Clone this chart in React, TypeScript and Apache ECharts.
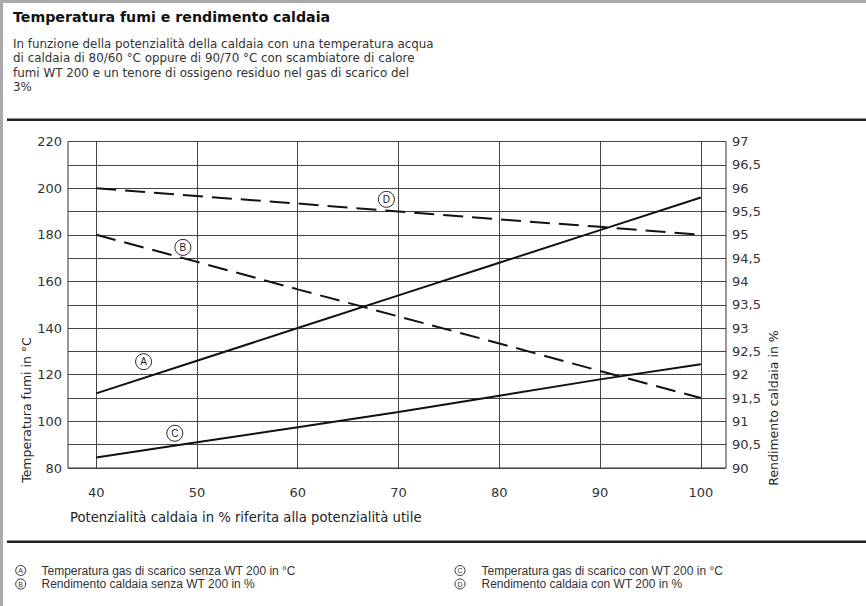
import React, { useEffect, useRef } from "react";
import * as echarts from "echarts";

const xValues = [40, 50, 60, 70, 80, 90, 100];
const seriesA = [112, 126, 140, 154, 168, 182, 196];
const seriesC = [84.5, 91, 97.5, 104, 111, 118, 124.5];
const seriesB = [95, 94.42, 93.83, 93.25, 92.67, 92.08, 91.5];
const seriesD = [96, 95.83, 95.67, 95.5, 95.33, 95.17, 95];

const xTicks = [40, 50, 60, 70, 80, 90, 100];

const titleText = "Temperatura fumi e rendimento caldaia";
const paragraph = [
  "In funzione della potenzialità della caldaia con una temperatura acqua",
  "di caldaia di 80/60 °C oppure di 90/70 °C con scambiatore di calore",
  "fumi WT 200 e un tenore di ossigeno residuo nel gas di scarico del",
  "3%",
];
const xAxisName = "Potenzialità caldaia in % riferita alla potenzialità utile";
const yLeftName = "Temperatura fumi in °C";
const yRightName = "Rendimento caldaia in %";

const legendItems = [
  { letter: "A", text: "Temperatura gas di scarico senza WT 200 in °C" },
  { letter: "B", text: "Rendimento caldaia senza WT 200 in %" },
  { letter: "C", text: "Temperatura gas di scarico con WT 200 in °C" },
  { letter: "D", text: "Rendimento caldaia con WT 200 in %" },
];

// annotation positions in data coordinates
const labelA = [44.7, 125.6];
const labelB = [48.6, 94.73];
const labelC = [47.8, 94.9];
const labelD = [68.8, 95.76];

const FONT = "'Liberation Sans', Arial, sans-serif";
const WIDE = "'DejaVu Sans', sans-serif";

function toPairs(ys: number[]) {
  return xValues.map((x, i) => [x, ys[i]]);
}

function circleMark(letter: string, coord: number[]) {
  return {
    symbol: "circle",
    symbolSize: 16,
    silent: true,
    itemStyle: { color: "#fff", borderColor: "#222", borderWidth: 1 },
    label: { show: true, position: "inside", formatter: letter, color: "#222", fontSize: 10, fontFamily: FONT },
    data: [{ coord }],
  };
}

export default function App() {
  const ref = useRef<HTMLDivElement>(null);
  useEffect(() => {
    if (!ref.current) return;
    const chart = echarts.init(ref.current, undefined, { renderer: "svg" });

    const graphics: any[] = [];
    graphics.push({ type: "rect", shape: { x: 0, y: 0, width: 866, height: 3 }, style: { fill: "#aaa" } });
    graphics.push({ type: "rect", shape: { x: 0, y: 0, width: 3, height: 606 }, style: { fill: "#aaa" } });
    graphics.push({
      type: "text", x: 13, y: 17,
      style: { text: titleText, font: `bold 14.2px ${WIDE}`, fill: "#111", verticalAlign: "middle" },
    });
    paragraph.forEach((line, i) => {
      graphics.push({
        type: "text", x: 13, y: 43.5 + i * 14.6,
        style: { text: line, font: `11.9px ${WIDE}`, fill: "#333", verticalAlign: "middle" },
      });
    });
    graphics.push({ type: "rect", shape: { x: 7, y: 118.5, width: 859, height: 2.5 }, style: { fill: "#222" } });
    graphics.push({ type: "rect", shape: { x: 7, y: 540.5, width: 859, height: 2.5 }, style: { fill: "#222" } });
    graphics.push({
      type: "text", x: 70, y: 517,
      style: { text: xAxisName, font: `13.2px ${WIDE}`, fill: "#222", verticalAlign: "middle", align: "left" },
    });
    graphics.push({
      type: "text", x: 26, y: 410, rotation: Math.PI / 2,
      style: { text: yLeftName, font: `12.5px ${WIDE}`, fill: "#222", verticalAlign: "middle", align: "center" },
    });
    graphics.push({
      type: "text", x: 773, y: 408, rotation: Math.PI / 2,
      style: { text: yRightName, font: `12.5px ${WIDE}`, fill: "#222", verticalAlign: "middle", align: "center" },
    });
    const legendPos = [
      { cx: 20.7, cy: 570.5, tx: 41.5 },
      { cx: 20.7, cy: 584, tx: 41.5 },
      { cx: 460, cy: 570.5, tx: 481.5 },
      { cx: 460, cy: 584, tx: 481.5 },
    ];
    legendItems.forEach((it, i) => {
      const p = legendPos[i];
      graphics.push({
        type: "circle", shape: { cx: p.cx, cy: p.cy, r: 5 },
        style: { fill: "#fff", stroke: "#333", lineWidth: 1 },
      });
      graphics.push({
        type: "text", x: p.cx, y: p.cy,
        style: { text: it.letter, font: `7px ${FONT}`, fill: "#333", align: "center", verticalAlign: "middle" },
      });
      graphics.push({
        type: "text", x: p.tx, y: p.cy,
        style: { text: it.text, font: `12px ${FONT}`, fill: "#333", align: "left", verticalAlign: "middle" },
      });
    });

    const lineColor = "#111";
    chart.setOption({
      animation: false,
      backgroundColor: "#fff",
      grid: {
        left: 68, right: 140, top: 141.5, bottom: 138,
        show: true, borderColor: "#333", borderWidth: 1, backgroundColor: "transparent",
      },
      xAxis: {
        type: "value", min: 37.2, max: 102.5,
        axisLine: { show: false },
        axisTick: { show: false, customValues: xTicks },
        axisLabel: { customValues: xTicks, color: "#333", fontSize: 13, fontFamily: WIDE, margin: 18 },
        splitLine: { show: true, lineStyle: { color: "#444", width: 1 } },
      },
      yAxis: [
        {
          type: "value", min: 80, max: 220, interval: 10, position: "left",
          axisLine: { show: false }, axisTick: { show: false },
          axisLabel: {
            color: "#333", fontSize: 13, fontFamily: WIDE, margin: 6,
            formatter: (v: number) => (v % 20 === 0 ? String(v) : ""),
          },
          splitLine: { show: true, lineStyle: { color: "#444", width: 1 } },
        },
        {
          type: "value", min: 90, max: 97, interval: 0.5, position: "right",
          axisLine: { show: false }, axisTick: { show: false },
          axisLabel: {
            color: "#333", fontSize: 13, fontFamily: WIDE, margin: 6,
            formatter: (v: number) => String(v).replace(".", ","),
          },
          splitLine: { show: false },
        },
      ],
      series: [
        {
          name: "A", type: "line", yAxisIndex: 0, data: toPairs(seriesA), symbol: "none",
          lineStyle: { color: lineColor, width: 2 }, markPoint: circleMark("A", labelA),
        },
        {
          name: "C", type: "line", yAxisIndex: 0, data: toPairs(seriesC), symbol: "none",
          lineStyle: { color: lineColor, width: 2 }, markPoint: circleMark("C", labelC),
        },
        {
          name: "B", type: "line", yAxisIndex: 1, data: toPairs(seriesB), symbol: "none",
          lineStyle: { color: lineColor, width: 2, type: [20, 9] }, markPoint: circleMark("B", labelB),
        },
        {
          name: "D", type: "line", yAxisIndex: 1, data: toPairs(seriesD), symbol: "none",
          lineStyle: { color: lineColor, width: 2, type: [20, 9] }, markPoint: circleMark("D", labelD),
        },
      ],
      graphic: graphics,
    });
    return () => chart.dispose();
  }, []);
  return (
    <div
      ref={ref}
      style={{ position: "fixed", left: 0, top: 0, width: 866, height: 606, background: "#fff" }}
    />
  );
}
